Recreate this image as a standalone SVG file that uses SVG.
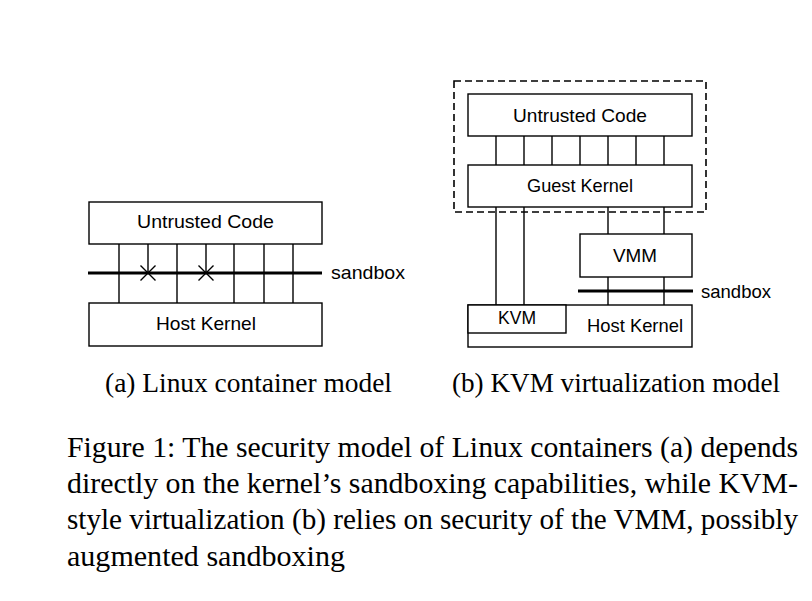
<svg xmlns="http://www.w3.org/2000/svg" width="812" height="601" viewBox="0 0 812 601">
<style>
.box{fill:#fff;stroke:#000;stroke-width:1.4}
.ln{stroke:#000;stroke-width:1.4;fill:none}
.sb{stroke:#000;stroke-width:3.2;fill:none}
.dash{fill:none;stroke:#000;stroke-width:1.6;stroke-dasharray:7 4}
.lbl{font-family:"Liberation Sans",Arial,sans-serif;font-size:19px;fill:#000}
.mid{text-anchor:middle}
.cap{font-family:"Liberation Serif","Times New Roman",serif;fill:#000}
</style>
<rect width="812" height="601" fill="#fff"/>
<g id="connectors">
<!-- (a) -->
<line class="ln" x1="119" y1="244" x2="119" y2="303"/>
<line class="ln" x1="148" y1="244" x2="148" y2="273"/>
<line class="ln" x1="177" y1="244" x2="177" y2="303"/>
<line class="ln" x1="206" y1="244" x2="206" y2="273"/>
<line class="ln" x1="234" y1="244" x2="234" y2="303"/>
<line class="ln" x1="264" y1="244" x2="264" y2="303"/>
<line class="ln" x1="293" y1="244" x2="293" y2="303"/>
<path class="ln" d="M140.5 265.5 L155.5 280.5 M155.5 265.5 L140.5 280.5"/>
<path class="ln" d="M198.5 265.5 L213.5 280.5 M213.5 265.5 L198.5 280.5"/>
<!-- (b) -->
<line class="ln" x1="496" y1="136" x2="496" y2="165"/>
<line class="ln" x1="524" y1="136" x2="524" y2="165"/>
<line class="ln" x1="552" y1="136" x2="552" y2="165"/>
<line class="ln" x1="580" y1="136" x2="580" y2="165"/>
<line class="ln" x1="608" y1="136" x2="608" y2="165"/>
<line class="ln" x1="636" y1="136" x2="636" y2="165"/>
<line class="ln" x1="664" y1="136" x2="664" y2="165"/>
<line class="ln" x1="496" y1="207" x2="496" y2="305"/>
<line class="ln" x1="524" y1="207" x2="524" y2="305"/>
<line class="ln" x1="608" y1="207" x2="608" y2="234"/>
<line class="ln" x1="664" y1="207" x2="664" y2="234"/>
<line class="ln" x1="608" y1="277" x2="608" y2="305"/>
<line class="ln" x1="664" y1="277" x2="664" y2="305"/>
</g>
<g id="sandbox-a">
<line class="sb" x1="88" y1="273" x2="322" y2="273"/>
<text class="lbl" x="331" y="279" textLength="74" lengthAdjust="spacingAndGlyphs">sandbox</text>
</g>
<g id="untrusted-a">
<rect class="box" x="89" y="202" width="233" height="42"/>
<text class="lbl mid" x="205.5" y="228" textLength="137" lengthAdjust="spacingAndGlyphs">Untrusted Code</text>
</g>
<g id="host-a">
<rect class="box" x="89" y="303" width="233" height="43"/>
<text class="lbl mid" x="206" y="330" textLength="100" lengthAdjust="spacingAndGlyphs">Host Kernel</text>
</g>
<g id="guest-boundary">
<rect class="dash" x="454" y="81" width="252" height="131"/>
</g>
<g id="untrusted-b">
<rect class="box" x="468" y="94" width="224" height="42"/>
<text class="lbl mid" x="580" y="122" textLength="134" lengthAdjust="spacingAndGlyphs">Untrusted Code</text>
</g>
<g id="guest-kernel">
<rect class="box" x="468" y="165" width="224" height="42"/>
<text class="lbl mid" x="580" y="192" textLength="106" lengthAdjust="spacingAndGlyphs">Guest Kernel</text>
</g>
<g id="vmm">
<rect class="box" x="580" y="234" width="112" height="43"/>
<text class="lbl mid" x="635" y="262" textLength="44" lengthAdjust="spacingAndGlyphs">VMM</text>
</g>
<g id="sandbox-b">
<line class="sb" x1="578" y1="291" x2="693" y2="291"/>
<text class="lbl" x="701" y="298" textLength="70" lengthAdjust="spacingAndGlyphs">sandbox</text>
</g>
<g id="host-b">
<rect class="box" x="468" y="305" width="224" height="42"/>
<text class="lbl" x="587" y="332" textLength="96" lengthAdjust="spacingAndGlyphs">Host Kernel</text>
</g>
<g id="kvm">
<rect class="box" x="468" y="305" width="98" height="28"/>
<text class="lbl mid" x="517" y="324" textLength="38" lengthAdjust="spacingAndGlyphs">KVM</text>
</g>
<g id="captions">
<text class="cap" x="105" y="392" font-size="27" textLength="287" lengthAdjust="spacingAndGlyphs">(a) Linux container model</text>
<text class="cap" x="452" y="392" font-size="27" textLength="328" lengthAdjust="spacingAndGlyphs">(b) KVM virtualization model</text>
<text class="cap" x="67" y="457" font-size="30" textLength="731" lengthAdjust="spacingAndGlyphs">Figure 1: The security model of Linux containers (a) depends</text>
<text class="cap" x="67" y="493" font-size="30" textLength="731" lengthAdjust="spacingAndGlyphs">directly on the kernel’s sandboxing capabilities, while KVM-</text>
<text class="cap" x="67" y="529" font-size="30" textLength="731" lengthAdjust="spacingAndGlyphs">style virtualization (b) relies on security of the VMM, possibly</text>
<text class="cap" x="67" y="566" font-size="30" textLength="278" lengthAdjust="spacingAndGlyphs">augmented sandboxing</text>
</g>
</svg>
